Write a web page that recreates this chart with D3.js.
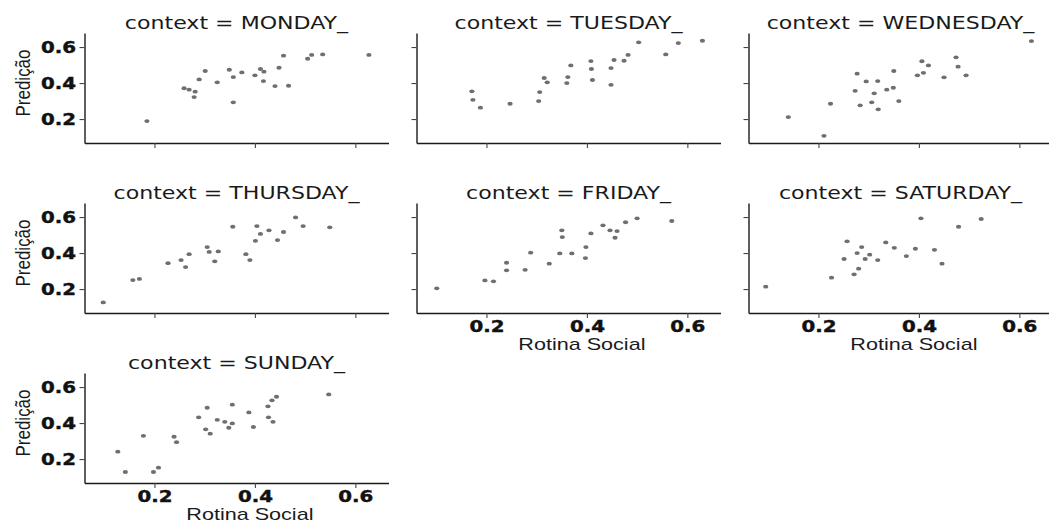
<!DOCTYPE html>
<html>
<head>
<meta charset="utf-8">
<script src="https://cdn.jsdelivr.net/npm/d3@7"></script>
<style>
  body { margin: 0; background: #fff; }
</style>
</head>
<body>
<svg id="chart" width="1049" height="523"></svg>
<script>
// facet order
const days = ["MONDAY_", "TUESDAY_", "WEDNESDAY_", "THURSDAY_", "FRIDAY_", "SATURDAY_", "SUNDAY_"];

// Rotina Social (x) and Predição (y) per day
const mondayX = [0.185, 0.259, 0.269, 0.281, 0.279, 0.289, 0.301, 0.325, 0.349, 0.357, 0.357, 0.374, 0.400, 0.411, 0.418, 0.417, 0.440, 0.448, 0.457, 0.467, 0.505, 0.513, 0.535, 0.627];
const mondayY = [0.189, 0.371, 0.363, 0.352, 0.322, 0.420, 0.467, 0.404, 0.474, 0.433, 0.293, 0.459, 0.443, 0.478, 0.463, 0.411, 0.383, 0.485, 0.552, 0.385, 0.535, 0.556, 0.559, 0.556];

const tuesdayX = [0.171, 0.173, 0.188, 0.247, 0.304, 0.306, 0.315, 0.321, 0.360, 0.362, 0.368, 0.408, 0.409, 0.411, 0.448, 0.448, 0.454, 0.474, 0.482, 0.503, 0.557, 0.582, 0.630];
const tuesdayY = [0.354, 0.307, 0.263, 0.285, 0.300, 0.350, 0.428, 0.404, 0.400, 0.433, 0.498, 0.522, 0.478, 0.417, 0.483, 0.390, 0.528, 0.524, 0.556, 0.626, 0.559, 0.622, 0.635];

const wednesdayX = [0.140, 0.211, 0.224, 0.273, 0.277, 0.283, 0.295, 0.306, 0.311, 0.318, 0.319, 0.336, 0.349, 0.350, 0.360, 0.397, 0.406, 0.409, 0.419, 0.450, 0.474, 0.478, 0.494, 0.624];
const wednesdayY = [0.211, 0.107, 0.285, 0.357, 0.452, 0.276, 0.409, 0.293, 0.343, 0.411, 0.254, 0.363, 0.374, 0.467, 0.300, 0.443, 0.521, 0.457, 0.498, 0.432, 0.543, 0.491, 0.443, 0.633];

const thursdayX = [0.098, 0.157, 0.170, 0.227, 0.253, 0.262, 0.269, 0.305, 0.309, 0.320, 0.327, 0.356, 0.382, 0.390, 0.401, 0.404, 0.411, 0.428, 0.445, 0.457, 0.481, 0.496, 0.549];
const thursdayY = [0.126, 0.250, 0.256, 0.344, 0.361, 0.322, 0.394, 0.433, 0.406, 0.354, 0.409, 0.546, 0.394, 0.361, 0.468, 0.550, 0.506, 0.526, 0.472, 0.517, 0.598, 0.550, 0.543];

const fridayX = [0.101, 0.197, 0.214, 0.240, 0.240, 0.277, 0.288, 0.325, 0.346, 0.350, 0.351, 0.370, 0.397, 0.398, 0.408, 0.432, 0.446, 0.456, 0.460, 0.477, 0.500, 0.569];
const fridayY = [0.204, 0.248, 0.243, 0.346, 0.304, 0.307, 0.402, 0.341, 0.398, 0.526, 0.489, 0.398, 0.372, 0.433, 0.509, 0.554, 0.526, 0.485, 0.522, 0.571, 0.593, 0.578];

const saturdayX = [0.095, 0.226, 0.251, 0.257, 0.271, 0.277, 0.280, 0.286, 0.293, 0.302, 0.318, 0.334, 0.351, 0.375, 0.393, 0.404, 0.431, 0.446, 0.479, 0.524];
const saturdayY = [0.213, 0.263, 0.367, 0.465, 0.282, 0.400, 0.313, 0.433, 0.367, 0.391, 0.361, 0.459, 0.429, 0.383, 0.424, 0.593, 0.418, 0.341, 0.546, 0.589];

const sundayX = [0.127, 0.142, 0.178, 0.198, 0.208, 0.239, 0.244, 0.288, 0.302, 0.305, 0.311, 0.325, 0.340, 0.348, 0.355, 0.355, 0.388, 0.397, 0.426, 0.427, 0.434, 0.436, 0.443, 0.547];
const sundayY = [0.241, 0.128, 0.329, 0.128, 0.152, 0.324, 0.294, 0.432, 0.365, 0.485, 0.341, 0.418, 0.407, 0.374, 0.398, 0.502, 0.459, 0.378, 0.493, 0.432, 0.526, 0.407, 0.546, 0.559];

const xValues = [mondayX, tuesdayX, wednesdayX, thursdayX, fridayX, saturdayX, sundayX];
const yValues = [mondayY, tuesdayY, wednesdayY, thursdayY, fridayY, saturdayY, sundayY];

const xTicks = [0.2, 0.4, 0.6];
const yTicks = [0.2, 0.4, 0.6];
const xDomain = [0.0607, 0.666];
const yDomain = [0.067, 0.678];
const xTitle = "Rotina Social";
const yTitle = "Predição";

// layout (the source figure is stretched sideways, so text gets a x scale)
const ncol = 3;
const left0 = 84.5, colStep = 332, top0 = 33, rowStep = 170;
const width = 304, height = 110;
const stretch = 1.32;
const ink = "#1a1a1a";

const x = d3.scaleLinear().domain(xDomain).range([0, width]);
const y = d3.scaleLinear().domain(yDomain).range([height, 0]);

const svg = d3.select("#chart");

days.forEach(function (day, i) {
  const col = i % ncol;
  const row = Math.floor(i / ncol);
  const below = i + ncol < days.length;     // another facet sits under this one
  const showX = !below;
  const showY = col === 0;

  const g = svg.append("g")
    .attr("transform", `translate(${left0 + col * colStep}, ${top0 + row * rowStep})`);

  // title
  g.append("text")
    .attr("transform", `translate(${width / 2}, -4) scale(1.3, 1)`)
    .attr("text-anchor", "middle")
    .style("font-family", "DejaVu Sans")
    .style("font-size", "17px")
    .attr("fill", ink)
    .text("context = " + day);

  const xAxis = d3.axisBottom(x)
    .tickValues(xTicks)
    .tickSize(5)
    .tickSizeOuter(0)
    .tickFormat(showX ? d3.format(".1f") : "");

  const yAxis = d3.axisLeft(y)
    .tickValues(yTicks)
    .tickSize(5)
    .tickSizeOuter(0)
    .tickFormat(showY ? d3.format(".1f") : "");

  const gx = g.append("g")
    .attr("transform", "translate(0," + height + ")")
    .call(xAxis);

  const gy = g.append("g").call(yAxis);

  [gx, gy].forEach(function (a) {
    a.select(".domain").attr("stroke", ink).attr("stroke-width", 1.4);
    a.selectAll(".tick line").attr("stroke", "#444").attr("stroke-width", 1.1);
    a.selectAll(".tick text")
      .attr("fill", "#111")
      .attr("stroke", "#111")
      .attr("stroke-width", 0.4)
      .style("font-family", "DejaVu Sans")
      .style("font-weight", "bold")
      .style("font-size", "15px");
  });
  gx.selectAll(".tick text")
    .attr("y", 8).attr("dy", "0.71em")
    .attr("transform", `scale(${stretch}, 1)`);
  gy.selectAll(".tick text")
    .attr("x", -6.4).attr("dy", "0.36em")
    .attr("transform", `scale(${stretch}, 1)`);

  if (showX) {
    g.append("text")
      .attr("transform", `translate(${x(0.39)}, ${height + 37}) scale(1.27, 1)`)
      .attr("text-anchor", "middle")
      .style("font-family", "Liberation Sans")
      .style("font-size", "17px")
      .attr("fill", ink)
      .text(xTitle);
  }

  if (showY) {
    g.append("text")
      .attr("transform", `translate(${-54.5}, ${50}) scale(1.15, 1) rotate(-90)`)
      .attr("text-anchor", "middle")
      .style("font-family", "Liberation Sans")
      .style("font-size", "17px")
      .attr("fill", ink)
      .text(yTitle);
  }

  const pts = xValues[i].map(function (v, k) {
    return { x: v, y: yValues[i][k] };
  });

  g.selectAll("ellipse")
    .data(pts)
    .join("ellipse")
    .attr("cx", d => x(d.x))
    .attr("cy", d => y(d.y))
    .attr("rx", 2.6)
    .attr("ry", 1.9)
    .attr("fill", "#6f6f6f");
});
</script>
</body>
</html>
